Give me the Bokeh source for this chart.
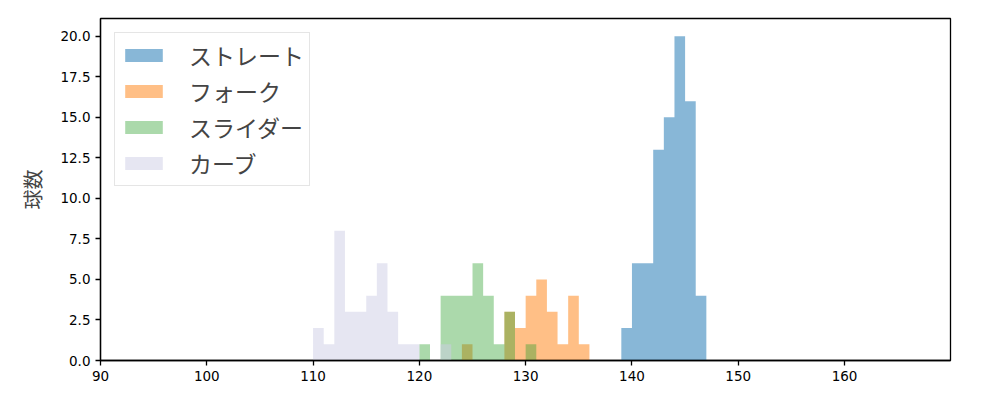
from bokeh.plotting import figure
from bokeh.models import Range1d, FixedTicker, Legend, LegendItem, NumeralTickFormatter, ColumnDataSource
from bokeh.embed import file_html
from bokeh.resources import INLINE

# pitch speed histogram data (bin left edge, km/h; count)
bin_width = 1.0
straight_left = [139, 140, 141, 142, 143, 144, 145, 146]
straight_count = [2, 6, 6, 13, 15, 20, 16, 4]
fork_left = [124, 128, 129, 130, 131, 132, 133, 134, 135]
fork_count = [1, 3, 2, 4, 5, 3, 1, 4, 1]
slider_left = [120, 122, 123, 124, 125, 126, 127, 128, 130]
slider_count = [1, 4, 4, 4, 6, 4, 1, 3, 1]
curve_left = [110, 111, 112, 113, 114, 115, 116, 117, 118, 119, 122]
curve_count = [2, 1, 8, 3, 3, 4, 6, 3, 1, 1, 1]

series = [
    ("ストレート", straight_left, straight_count, "#1f77b4", 0.53),
    ("フォーク", fork_left, fork_count, "#ff7f0e", 0.5),
    ("スライダー", slider_left, slider_count, "#2ca02c", 0.4),
    ("カーブ", curve_left, curve_count, "#cdcde5", 0.5),
]
x_ticks = [90, 100, 110, 120, 130, 140, 150, 160]
y_ticks = [0, 2.5, 5, 7.5, 10, 12.5, 15, 17.5, 20]

FONT = "Noto Sans CJK JP"
TICK_FONT = "DejaVu Sans"


def step_source(left, count):
    """Build a step outline (edges + heights) from histogram bins."""
    lo = min(left)
    hi = max(left) + bin_width
    n = int(round((hi - lo) / bin_width))
    heights = [0] * n
    for l, c in zip(left, count):
        heights[int(round((l - lo) / bin_width))] = c
    xs = [lo + i * bin_width for i in range(n + 1)]
    ys = heights + [heights[-1]]
    return ColumnDataSource(dict(x=xs, y1=[0] * len(xs), y2=ys))


p = figure(width=1000, height=400, output_backend="svg", toolbar_location=None,
           x_range=Range1d(90, 169.97), y_range=Range1d(0, 21.1),
           min_border_left=100, min_border_right=50, min_border_top=18, min_border_bottom=40)
p.xgrid.visible = False
p.ygrid.visible = False
p.outline_line_color = "black"
p.outline_line_width = 1.3
p.outline_line_alpha = 1

items = []
for name, left, count, color, alpha in series:
    src = step_source(left, count)
    r = p.varea_step(x="x", y1="y1", y2="y2", step_mode="after", source=src,
                     fill_color=color, fill_alpha=alpha)
    items.append(LegendItem(label=name, renderers=[r]))

for ax in (p.xaxis[0], p.yaxis[0]):
    ax.axis_line_color = "black"
    ax.axis_line_width = 1.3
    ax.major_tick_line_color = "black"
    ax.major_tick_line_width = 1.3
    ax.major_tick_out = 5
    ax.major_tick_in = 0
    ax.minor_tick_line_color = None
    ax.major_label_text_font = TICK_FONT
    ax.major_label_text_font_size = "13.5px"
    ax.major_label_text_color = "black"

p.xaxis.ticker = FixedTicker(ticks=x_ticks)
p.yaxis.ticker = FixedTicker(ticks=y_ticks)
p.yaxis.formatter = NumeralTickFormatter(format="0.0")
p.yaxis.axis_label = "球数"
p.yaxis.axis_label_text_font = FONT
p.yaxis.axis_label_text_font_size = "20px"
p.yaxis.axis_label_text_font_style = "normal"
p.yaxis.axis_label_standoff = 10

legend = Legend(items=items, location="top_left")
legend.label_text_font = FONT
legend.label_text_font_size = "23px"
legend.glyph_width = 47
legend.glyph_height = 16
legend.label_standoff = 22
legend.label_height = 23
legend.spacing = 2
legend.padding = 5
legend.margin = 14
legend.border_line_color = "#cccccc"
legend.border_line_width = 1
legend.background_fill_alpha = 0.8
p.add_layout(legend)

open("out.html", "w").write(file_html(p, INLINE))
